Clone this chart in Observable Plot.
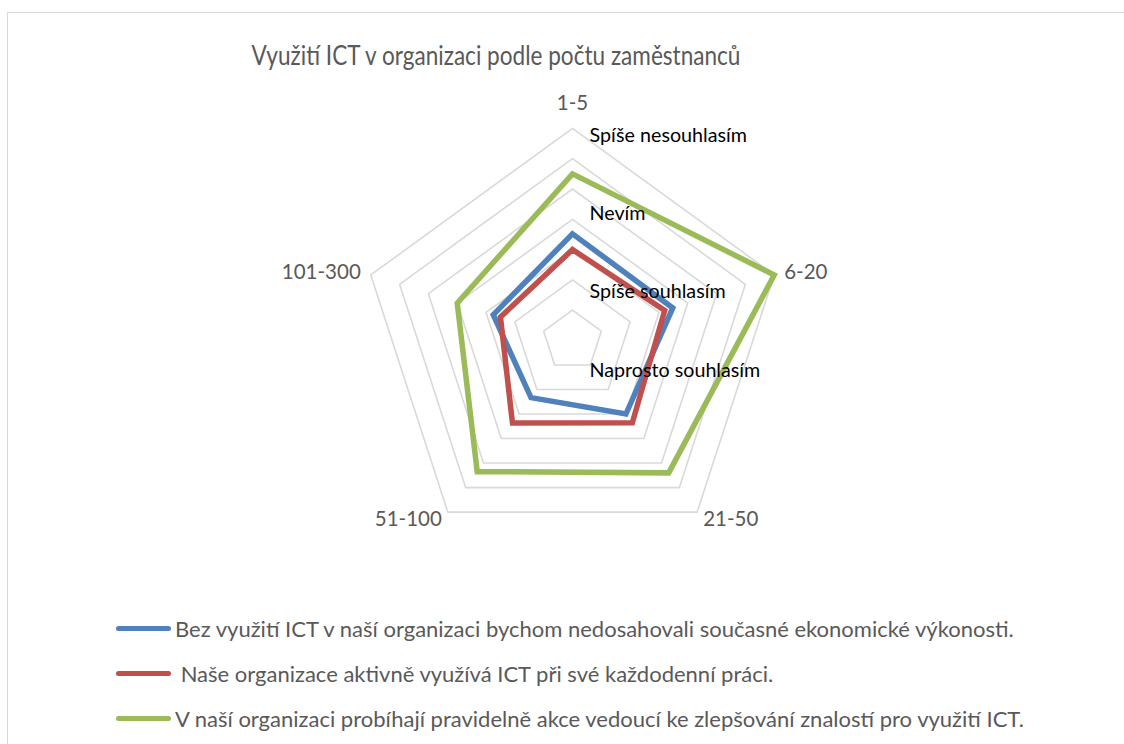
<!DOCTYPE html>
<html><head><meta charset="utf-8">
<script src="https://cdn.jsdelivr.net/npm/d3@7"></script>
<script src="https://cdn.jsdelivr.net/npm/@observablehq/plot@0.6"></script>
<style>
body{margin:0;background:#fff;}
#wrap{position:relative;width:1124px;height:744px;overflow:hidden;font-family:Lato,"Open Sans",sans-serif;background:#fff;}
#frame{position:absolute;left:7px;top:12px;width:1200px;height:800px;border:1.5px solid #d9d9d9;box-sizing:border-box;}
#title{position:absolute;left:0;width:992px;top:39px;line-height:1.2;text-align:center;font-size:27px;font-weight:400;color:#595959;white-space:nowrap;transform:scaleX(0.836);transform-origin:496px 50%;}
#chart{position:absolute;left:0;top:0;}
#legend{position:absolute;left:116px;top:606px;}
.item{display:flex;align-items:center;height:45px;font-size:22px;color:#595959;white-space:pre;}
.sw{width:55px;height:5px;border-radius:3px;margin-right:4px;flex:none;}
</style></head>
<body>
<div id="wrap">
  <div id="frame"></div>
  <div id="chart"></div>
  <div id="title"></div>
  <div id="legend"></div>
</div>
<script>
const titleText = "Využití ICT v organizaci podle počtu zaměstnanců";
const categories = ["1-5", "6-20", "21-50", "51-100", "101-300"];
const seriesNames = [
  "Bez využití ICT v naší organizaci bychom nedosahovali současné ekonomické výkonosti.",
  " Naše organizace aktivně využívá ICT při své každodenní práci.",
  "V naší organizaci probíhají pravidelně akce vedoucí ke zlepšování znalostí pro využití ICT."
];
const blueValues = [3.52, 3.48, 3.0, 2.33, 2.75];
const redValues = [3.0, 3.2, 3.36, 3.37, 2.5];
const greenValues = [5.5, 7.0, 5.4, 5.35, 4.0];
const ringLevels = [1, 2, 3, 4, 5, 6, 7];
const scaleLabels = ["Naprosto souhlasím", "Spíše souhlasím", "Nevím", "Spíše nesouhlasím"];
const scaleLabelLevels = [-0.98, 1.6, 4.2, 6.75];
const seriesColors = ["#4F81BD", "#C0504D", "#9BBB59"];

const W = 1124, H = 590, CX = 572, CY = 340, R = 30.3;
const maxLevel = d3.max(ringLevels);
const angle = i => Math.PI / 2 - i * 2 * Math.PI / categories.length;
const pt = (r, i) => ({x: r * Math.cos(angle(i)), y: r * Math.sin(angle(i))});

const ringData = ringLevels.flatMap(level => categories.map((c, i) => ({level, ...pt(level, i)})));
const allSeries = [blueValues, redValues, greenValues];
const seriesData = allSeries.flatMap((vals, s) => vals.map((v, i) => ({series: seriesNames[s], ...pt(v, i)})));
const catData = categories.map((c, i) => ({label: c, i, ...pt(maxLevel, i)}));
const scaleData = scaleLabels.map((t, i) => ({label: t, x: 0, y: scaleLabelLevels[i]}));

const catStyle = [
  {textAnchor: "middle", dx: 0, dy: -25},
  {textAnchor: "start", dx: 10, dy: -3},
  {textAnchor: "start", dx: 6, dy: 7},
  {textAnchor: "end", dx: -6, dy: 7},
  {textAnchor: "end", dx: -10, dy: -3}
];

const chart = Plot.plot({
  width: W, height: H, margin: 0,
  style: {background: "transparent", overflow: "visible"},
  x: {domain: [-CX / R, (W - CX) / R], axis: null},
  y: {domain: [-(H - CY) / R, CY / R], axis: null},
  color: {domain: seriesNames, range: seriesColors},
  marks: [
    Plot.line(ringData, {x: "x", y: "y", z: "level", curve: "linear-closed", stroke: "#d9d9d9", strokeWidth: 1.6}),
    Plot.line(seriesData, {x: "x", y: "y", z: "series", stroke: "series", curve: "linear-closed", strokeWidth: 5.5, strokeLinejoin: "miter", strokeMiterlimit: 10}),
    Plot.text(scaleData, {x: "x", y: "y", text: "label", dx: 17, textAnchor: "start", fill: "#000", fontSize: 19.7, fontFamily: "Lato"}),
    ...catData.map((d, i) => Plot.text([d], {x: "x", y: "y", text: "label", fill: "#595959", fontSize: 20.5, fontFamily: "Lato", ...catStyle[i]}))
  ]
});
document.getElementById("chart").appendChild(chart);
document.getElementById("title").textContent = titleText;

const legend = document.getElementById("legend");
seriesNames.forEach((name, i) => {
  const item = document.createElement("div");
  item.className = "item";
  const sw = document.createElement("div");
  sw.className = "sw";
  sw.style.background = seriesColors[i];
  const t = document.createElement("span");
  t.textContent = name;
  item.appendChild(sw);
  item.appendChild(t);
  legend.appendChild(item);
});
</script>
</body></html>
